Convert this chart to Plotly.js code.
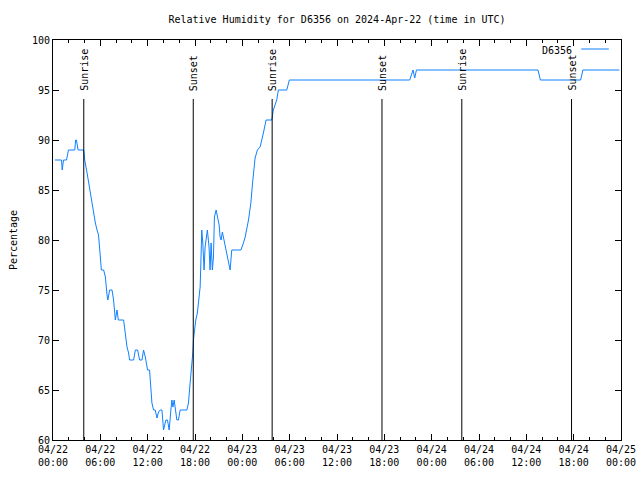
<!DOCTYPE html>
<html>
<head>
<meta charset="utf-8">
<script src="https://cdn.plot.ly/plotly-3.0.1.min.js"></script>
<style>html,body{margin:0;padding:0;background:#fff;}#chart{width:640px;height:480px;}</style>
</head>
<body>
<div id="chart"></div>
<script>
// Hours since 2024-04-22 00:00 UTC
const hours = [0.25,1.08,1.17,1.33,1.71,1.82,1.96,2.76,2.87,2.97,3.18,3.9,4.02,4.32,4.52,4.74,4.95,5.16,5.37,5.58,5.77,6.0,6.13,6.42,6.64,6.85,6.95,7.18,7.48,7.68,7.81,7.9,8.11,8.28,8.95,9.16,9.38,9.58,9.71,10.22,10.44,10.73,10.98,11.28,11.48,11.7,11.82,11.99,12.24,12.42,12.54,12.75,12.96,13.18,13.38,13.59,13.81,14.01,14.14,14.31,14.51,14.73,14.94,15.07,15.2,15.36,15.53,15.7,15.9,16.12,16.97,17.17,17.38,17.6,17.72,17.8,17.93,18.1,18.3,18.43,18.65,18.73,18.86,18.99,19.15,19.28,19.4,19.57,19.78,19.91,20.04,20.2,20.34,20.46,20.68,20.84,21.06,21.18,21.31,21.47,21.69,21.9,22.07,22.32,22.45,22.66,23.82,24.14,24.36,24.78,25.08,25.33,25.62,25.91,26.25,26.67,27.01,27.73,27.93,28.36,28.57,29.63,29.96,45.22,45.64,45.85,46.07,61.48,61.78,66.88,67.17,71.8];
const humidity = [88,88,87,88,88,88.5,89,89,90,90,89,89,88,86.7,85.7,84.7,83.8,82.7,81.7,81,80.5,78.3,77,77,76.3,74.5,74,75,75,74,72.7,72,73,72,72,70.7,69.3,68.7,68,68,69,69,68,68,69,68.3,67.7,67,67,64.7,63.7,63,63,62.2,62.8,63,63,61,61.5,62,62,61,63,64,63.3,64,63,62,62,63,63,63.7,65.7,67.5,68.7,70,71,72,72.7,73.7,75.3,77.3,81,79.7,77,79.3,80.3,81,79.3,77,79.7,77,78.3,82.3,83,82.3,81.5,80.3,80,80.8,80,79.3,78.7,77.7,77,79,79,79.7,80.3,82,83.7,86,88.2,89,89.3,90.7,92,92,93,94,95,95,96,96,97,96.2,97,97,96,96,97,97];

// Sun events (hours since 2024-04-22 00:00 UTC)
const sunHours = [3.9, 17.78, 27.78, 41.7, 51.82, 65.73];
const sunLabels = ["Sunrise", "Sunset", "Sunrise", "Sunset", "Sunrise", "Sunset"];

const seriesName = "D6356";
const titleText = "Relative Humidity for D6356 on 2024-Apr-22 (time in UTC)";
const yTitle = "Percentage";

const base = Date.UTC(2024, 3, 22, 0, 0, 0);
const H = 3600000;
const toMs = h => base + h * H;

const FONT = "DejaVu Sans Mono, Liberation Mono, monospace";
const lineColor = "#0f80ff";
const sunTop = 94.1;

const shapes = sunHours.map(h => ({
  type: "line", xref: "x", yref: "y",
  x0: toMs(h), x1: toMs(h), y0: 60, y1: sunTop,
  line: {color: "#000", width: 1}
}));
// legend sample line (gnuplot-style key)
shapes.push({type: "line", xref: "paper", yref: "paper", x0: 0.930, x1: 0.9786, y0: 0.9775, y1: 0.9775,
  line: {color: lineColor, width: 1}});

const annotations = sunHours.map((h, i) => ({
  x: toMs(h), y: 94.8, xref: "x", yref: "y",
  text: sunLabels[i], textangle: -90, showarrow: false,
  xanchor: "center", yanchor: "bottom", borderpad: 0,
  font: {family: FONT, size: 10, color: "#000"}
}));
annotations.push({
  x: 0.918, y: 0.975, xref: "paper", yref: "paper",
  text: seriesName, showarrow: false, xanchor: "right", yanchor: "middle",
  font: {family: FONT, size: 10, color: "#000"}
});

const trace = {
  x: hours.map(toMs), y: humidity,
  type: "scatter", mode: "lines", name: seriesName,
  line: {color: lineColor, width: 1}
};

const layout = {
  width: 640, height: 480,
  margin: {l: 52.5, r: 18.5, t: 40, b: 40, pad: 0},
  paper_bgcolor: "#fff", plot_bgcolor: "#fff",
  showlegend: false,
  font: {family: FONT, size: 10, color: "#000"},
  title: {text: titleText, x: 0.5, xref: "paper", y: 0.960, yref: "container", yanchor: "middle",
    font: {family: FONT, size: 10, color: "#000"}},
  xaxis: {
    type: "date", range: [base, base + 72 * H],
    tick0: base, dtick: 6 * H, tickformat: "%m/%d<br>%H:%M",
    ticks: "inside", ticklen: 6, tickcolor: "#000", tickwidth: 1,
    minor: {dtick: 2 * H, ticks: "inside", ticklen: 3, tickcolor: "#000", showgrid: false},
    showline: true, linecolor: "#000", linewidth: 1, mirror: "allticks",
    showgrid: false, zeroline: false, automargin: false,
    tickfont: {family: FONT, size: 10, color: "#000"}
  },
  yaxis: {
    range: [60, 100], dtick: 5, tick0: 60,
    ticks: "inside", ticklen: 6, tickcolor: "#000", tickwidth: 1,
    showline: true, linecolor: "#000", linewidth: 1, mirror: "allticks",
    showgrid: false, zeroline: false, automargin: false,
    tickfont: {family: FONT, size: 10, color: "#000"},
    title: {text: yTitle, standoff: 12, font: {family: FONT, size: 10, color: "#000"}}
  },
  shapes: shapes,
  annotations: annotations
};

Plotly.newPlot("chart", [trace], layout, {displayModeBar: false, staticPlot: true});
</script>
</body>
</html>
